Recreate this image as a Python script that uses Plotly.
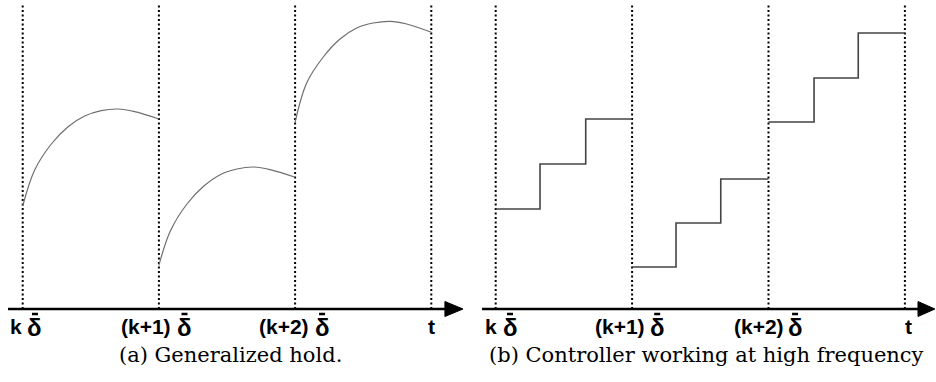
import plotly.graph_objects as go

# Sampling instants (in units of the period delta-bar)
instants = [0, 1, 2, 3]

# (a) Generalized hold: one smooth arc per period
hold_x = [
    [0.0, 0.088, 0.21, 0.333, 0.455, 0.577, 0.70, 0.822, 1.0],
    [1.0, 1.084, 1.206, 1.328, 1.45, 1.573, 1.695, 1.817, 2.0],
    [2.0, 2.085, 2.207, 2.33, 2.452, 2.574, 2.697, 2.819, 3.0],
]
hold_y = [
    [1.03, 1.39, 1.65, 1.823, 1.93, 1.983, 2.0, 1.973, 1.90],
    [0.437, 0.78, 1.05, 1.227, 1.343, 1.40, 1.42, 1.393, 1.317],
    [1.867, 2.26, 2.52, 2.70, 2.81, 2.86, 2.877, 2.85, 2.767],
]

# (b) Controller at high frequency: three sub-steps per period
step_x = [
    [0.0, 0.325, 0.66, 1.0],
    [1.0, 1.322, 1.65, 2.0],
    [2.0, 2.334, 2.658, 3.0],
]
step_y = [
    [1.00, 1.45, 1.90, 1.90],
    [0.42, 0.86, 1.30, 1.30],
    [1.87, 2.31, 2.76, 2.76],
]

# time-axis labels: prefix text, its left edge, and the centre of the delta-bar
label_prefix = ["k", "(k+1)", "(k+2)"]
prefix_left_a = [-0.108, 0.709, 1.718]
delta_center_a = [0.09, 1.188, 2.198]
prefix_left_b = [-0.093, 0.716, 1.730]
delta_center_b = [0.105, 1.184, 2.195]
t_center = [3.005, 3.023]
captions = ["(a) Generalized hold.", "(b) Controller working at high frequency"]
caption_center = [0.2465, 0.7545]

fig = go.Figure()

dot_top = 3.04
for xa, ya in (("x", "y"), ("x2", "y2")):
    for t in instants:
        fig.add_trace(go.Scatter(
            x=[t, t], y=[0, dot_top], mode="lines", xaxis=xa, yaxis=ya,
            line=dict(color="black", width=2, dash="2px,2.5px"),
            hoverinfo="skip", showlegend=False))

for xs, ys in zip(hold_x, hold_y):
    fig.add_trace(go.Scatter(
        x=xs, y=ys, mode="lines", xaxis="x", yaxis="y",
        line=dict(color="#6e6e6e", width=1.2, shape="spline", smoothing=1.0),
        showlegend=False))

for xs, ys in zip(step_x, step_y):
    fig.add_trace(go.Scatter(
        x=xs, y=ys, mode="lines", xaxis="x2", yaxis="y2",
        line=dict(color="#444444", width=1.6, shape="hv"),
        showlegend=False))

# time axes with arrowheads
axes_spec = [("x", "y", -0.108, 3.10, 3.233), ("x2", "y2", -0.10, 3.096, 3.22)]
for xr, yr, x0, xh, xt in axes_spec:
    fig.add_shape(type="line", xref=xr, yref=yr, x0=x0, x1=xh + 0.02, y0=0, y1=0,
                  line=dict(color="black", width=2.5))
    fig.add_shape(type="path", xref=xr, yref=yr,
                  path=f"M {xh} 0.075 L {xt} 0 L {xh} -0.075 Z",
                  fillcolor="black", line=dict(color="black", width=1))

label_font = dict(family="Liberation Sans, Arial, sans-serif", size=21, color="black")
delta_font = dict(family="Liberation Sans, Arial, sans-serif", size=24, color="black")
label_y = -0.175
macron_y = -0.05
panels = [("x", "y", prefix_left_a, delta_center_a, t_center[0]),
          ("x2", "y2", prefix_left_b, delta_center_b, t_center[1])]
for xr, yr, lefts, dcs, tc in panels:
    for txt, lx, dc in zip(label_prefix, lefts, dcs):
        fig.add_annotation(x=lx, y=label_y, xref=xr, yref=yr, text=f"<b>{txt}</b>",
                           showarrow=False, xanchor="left", yanchor="middle",
                           font=label_font)
        fig.add_annotation(x=dc, y=label_y - 0.01, xref=xr, yref=yr,
                           text="<b>\u03b4</b>", showarrow=False,
                           xanchor="center", yanchor="middle", font=delta_font)
        fig.add_shape(type="line", xref=xr, yref=yr,
                      x0=dc - 0.022, x1=dc + 0.022, y0=macron_y, y1=macron_y,
                      line=dict(color="black", width=2.5))
    fig.add_annotation(x=tc, y=label_y, xref=xr, yref=yr, text="<b>t</b>",
                       showarrow=False, xanchor="center", yanchor="middle",
                       font=label_font)

cap_font = dict(family="DejaVu Serif, serif", size=21, color="black")
for cx, txt in zip(caption_center, captions):
    fig.add_annotation(x=cx, y=1 - 355 / 382, xref="paper", yref="paper",
                       text=txt, showarrow=False, xanchor="center",
                       yanchor="middle", font=cap_font)

ax_common = dict(visible=False, showgrid=False, zeroline=False)
fig.update_layout(
    width=936, height=382,
    margin=dict(l=0, r=0, t=0, b=0),
    paper_bgcolor="white", plot_bgcolor="white",
    xaxis=dict(domain=[0, 0.5], range=[-0.1667, 3.2695], **ax_common),
    xaxis2=dict(domain=[0.5, 1], range=[-0.203, 3.228], **ax_common),
    yaxis=dict(domain=[0, 1], range=[-0.73, 3.09], **ax_common),
    yaxis2=dict(domain=[0, 1], range=[-0.73, 3.09], anchor="x2", **ax_common),
)

fig.write_html("out.html")
